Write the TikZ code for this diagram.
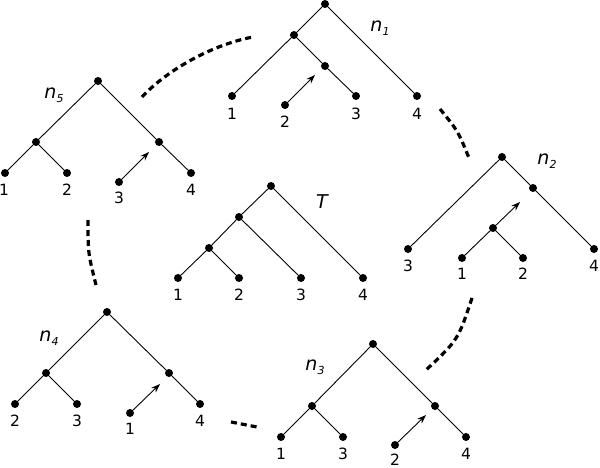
\documentclass[tikz,border=0pt]{standalone}
\usepackage{fontspec}
\setmainfont{DejaVu Sans}
\usetikzlibrary{arrows.meta}
\newcommand\treelab[1]{n\raisebox{-4pt}{\fontsize{11}{12}\selectfont #1}}
\tikzset{
 dot/.style={circle,fill=black,inner sep=0pt,minimum size=8pt},
 edge/.style={line width=0.9pt},
 mv/.style={line width=0.9pt,-{Stealth[length=9pt,width=6.5pt]}},
 lbl/.style={font=\fontsize{15.5}{18}\selectfont,inner sep=0pt},
 tname/.style={font=\fontsize{19}{22}\selectfont\itshape,inner sep=0pt},
 arcdash/.style={line width=3.2pt,dash pattern=on 6pt off 4pt}
}
\begin{document}
\begin{tikzpicture}[x=1pt,y=-1pt]
\useasboundingbox (0,0) rectangle (600,468);

% ---------- tree n1 ----------
\node[dot] (r1) at (325,4) {};
\node[dot] (a1) at (294,35) {};
\node[dot] (b1) at (325,66) {};
\node[dot] (l11) at (232,96) {};
\node[dot] (l13) at (356,96) {};
\node[dot] (l14) at (417,96) {};
\node[dot] (l12) at (285,105) {};
\coordinate (t1) at (315,75);
\draw[edge] (r1) -- (a1) (r1) -- (l14) (a1) -- (l11) (a1) -- (b1) (b1) -- (l13);
\draw[mv] (l12) -- (t1);
\node[lbl] (x11) at (232,113.5) {1};
\node[lbl] (x12) at (285,121.5) {2};
\node[lbl] (x13) at (356,113.5) {3};
\node[lbl] (x14) at (417,113.5) {4};
\node[tname] (n1) at (380,28) {\treelab{1}};

% ---------- tree n5 ----------
\node[dot] (r5) at (98,81) {};
\node[dot] (a5) at (36,142) {};
\node[dot] (b5) at (159,142) {};
\node[dot] (l51) at (5,173) {};
\node[dot] (l52) at (67,173) {};
\node[dot] (l54) at (191,173) {};
\node[dot] (l53) at (119,182) {};
\coordinate (t5) at (149,152);
\draw[edge] (r5) -- (a5) (r5) -- (b5) (a5) -- (l51) (a5) -- (l52) (b5) -- (l54);
\draw[mv] (l53) -- (t5);
\node[lbl] (x51) at (4,190) {1};
\node[lbl] (x52) at (67,190) {2};
\node[lbl] (x53) at (119,198) {3};
\node[lbl] (x54) at (191,190) {4};
\node[tname] (n5) at (54,95) {\treelab{5}};

% ---------- tree n2 ----------
\node[dot] (r2) at (502,157) {};
\node[dot] (a2) at (533,188) {};
\node[dot] (b2) at (493,228) {};
\node[dot] (l23) at (408,249) {};
\node[dot] (l24) at (594,249) {};
\node[dot] (l21) at (462,258) {};
\node[dot] (l22) at (523,258) {};
\coordinate (t2) at (520,202);
\draw[edge] (r2) -- (l23) (r2) -- (a2) (a2) -- (l24) (b2) -- (l21) (b2) -- (l22);
\draw[mv] (b2) -- (t2);
\node[lbl] (x23) at (408,266) {3};
\node[lbl] (x24) at (594,266) {4};
\node[lbl] (x21) at (462,274) {1};
\node[lbl] (x22) at (523,274) {2};
\node[tname] (n2) at (547,161) {\treelab{2}};

% ---------- tree T ----------
\node[dot] (rt) at (271,186) {};
\node[dot] (at) at (239,217) {};
\node[dot] (bt) at (209,248) {};
\node[dot] (lt1) at (178,278) {};
\node[dot] (lt2) at (239,278) {};
\node[dot] (lt3) at (301,278) {};
\node[dot] (lt4) at (363,278) {};
\draw[edge] (rt) -- (at) (rt) -- (lt4) (at) -- (bt) (at) -- (lt3) (bt) -- (lt1) (bt) -- (lt2);
\node[lbl] (xt1) at (178,295) {1};
\node[lbl] (xt2) at (239,295) {2};
\node[lbl] (xt3) at (301,295) {3};
\node[lbl] (xt4) at (363,295) {4};
\node[tname] (tT) at (322,202) {T};

% ---------- tree n4 ----------
\node[dot] (r4) at (107,312) {};
\node[dot] (a4) at (46,373) {};
\node[dot] (b4) at (169,373) {};
\node[dot] (l42) at (15,404) {};
\node[dot] (l43) at (77,404) {};
\node[dot] (l44) at (200,404) {};
\node[dot] (l41) at (130,413) {};
\coordinate (t4) at (160,384);
\draw[edge] (r4) -- (a4) (r4) -- (b4) (a4) -- (l42) (a4) -- (l43) (b4) -- (l44);
\draw[mv] (l41) -- (t4);
\node[lbl] (x42) at (15,421) {2};
\node[lbl] (x43) at (77,421) {3};
\node[lbl] (x41) at (130,429) {1};
\node[lbl] (x44) at (200,421) {4};
\node[tname] (n4) at (49,338) {\treelab{4}};

% ---------- tree n3 ----------
\node[dot] (r3) at (373,344) {};
\node[dot] (a3) at (312,406) {};
\node[dot] (b3) at (435,406) {};
\node[dot] (l31) at (281,437) {};
\node[dot] (l33) at (343,437) {};
\node[dot] (l34) at (466,437) {};
\node[dot] (l32) at (395,445) {};
\coordinate (t3) at (426,415);
\draw[edge] (r3) -- (a3) (r3) -- (b3) (a3) -- (l31) (a3) -- (l33) (b3) -- (l34);
\draw[mv] (l32) -- (t3);
\node[lbl] (x31) at (281,454) {1};
\node[lbl] (x33) at (343,454) {3};
\node[lbl] (x32) at (395,460) {2};
\node[lbl] (x34) at (466,454) {4};
\node[tname] (n3) at (315,367) {\treelab{3}};

% ---------- dashed arcs ----------
\coordinate (d1a) at (142,97);
\coordinate (d1b) at (253,37);
\coordinate (d2a) at (440,109);
\coordinate (d2b) at (469,158);
\coordinate (d3a) at (472,298);
\coordinate (d3b) at (426,370);
\coordinate (d4a) at (231,422);
\coordinate (d4b) at (257,427);
\coordinate (d5a) at (88,220);
\coordinate (d5b) at (96,285);
\draw[arcdash] (d1a) .. controls (165,72) and (210,45) .. (d1b);
\draw[arcdash] (d2a) .. controls (458,131) .. (d2b);
\draw[arcdash] (d3a) .. controls (458,340) .. (d3b);
\draw[arcdash] (d4a) -- (d4b);
\draw[arcdash] (d5a) .. controls (88,253) .. (d5b);
\end{tikzpicture}
\end{document}
